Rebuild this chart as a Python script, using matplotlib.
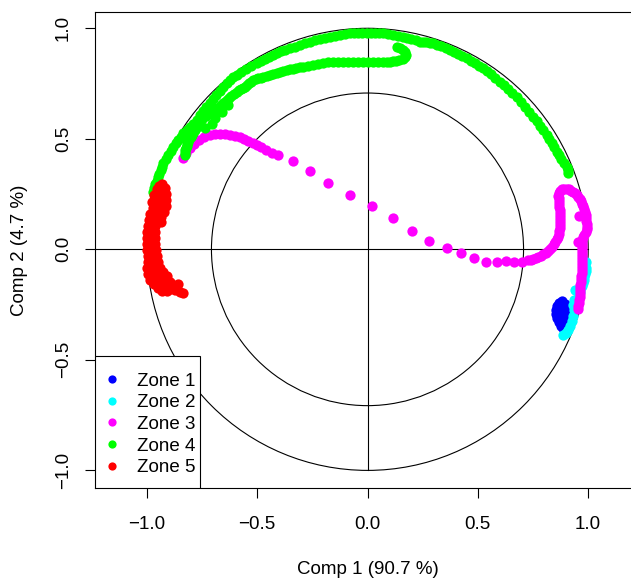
import numpy as np
import matplotlib.pyplot as plt
from matplotlib.patches import Circle, Rectangle

plt.rcParams["font.family"] = ["Liberation Sans", "DejaVu Sans"]

# Correlation of each observation with the first two components
zone1_x = [0.881, 0.868, 0.859, 0.854, 0.854, 0.859, 0.868, 0.877, 0.886,
           0.895, 0.899, 0.899, 0.899, 0.895, 0.872, 0.881]
zone1_y = [-0.234, -0.243, -0.257, -0.275, -0.293, -0.311, -0.329, -0.347, -0.356,
           -0.333, -0.311, -0.288, -0.266, -0.248, -0.284, -0.311]

zone2_x = [0.990, 0.990, 0.985, 0.981, 0.972, 0.963, 0.954, 0.945, 0.936,
           0.931, 0.927, 0.918, 0.909, 0.899, 0.886, 0.940, 0.936, 0.931,
           0.988, 0.983, 0.976]
zone2_y = [-0.057, -0.085, -0.112, -0.139, -0.166, -0.193, -0.220, -0.248, -0.275,
           -0.302, -0.324, -0.347, -0.365, -0.379, -0.388, -0.184, -0.229, -0.252,
           -0.100, -0.125, -0.152]

zone3_x = [-0.836, -0.822, -0.804, -0.786, -0.763, -0.741, -0.714, -0.691, -0.668,
           -0.646, -0.623, -0.600, -0.578, -0.560, -0.540, -0.521, -0.502, -0.483,
           -0.461, -0.433, -0.404, -0.336, -0.261, -0.178, -0.079, 0.022, 0.114,
           0.200, 0.280, 0.359, 0.424, 0.484, 0.537, 0.585, 0.628, 0.665, 0.701,
           0.729, 0.740, 0.750, 0.762, 0.773, 0.784, 0.795, 0.807, 0.818, 0.827,
           0.836, 0.843, 0.850, 0.857, 0.863, 0.867, 0.870, 0.871, 0.872, 0.872,
           0.872, 0.872, 0.872, 0.871, 0.870, 0.869, 0.868, 0.866, 0.863, 0.866,
           0.872, 0.880, 0.890, 0.902, 0.913, 0.922, 0.931, 0.940, 0.949, 0.956,
           0.963, 0.968, 0.972, 0.977, 0.981, 0.985, 0.988, 0.990, 0.992, 0.994,
           0.995, 0.993, 0.990, 0.983, 0.976, 0.972, 0.970, 0.970, 0.970, 0.971,
           0.972, 0.972, 0.972, 0.972, 0.972, 0.971, 0.970, 0.969, 0.967, 0.966,
           0.965, 0.964, 0.963, 0.962, 0.961, 0.960, 0.958, 0.956, 0.954,
           0.958, 0.955]
zone3_y = [0.413, 0.436, 0.458, 0.476, 0.495, 0.508, 0.517, 0.522, 0.524,
           0.522, 0.517, 0.513, 0.506, 0.499, 0.490, 0.481, 0.472, 0.461,
           0.449, 0.438, 0.428, 0.400, 0.354, 0.301, 0.246, 0.196, 0.142,
           0.084, 0.038, 0.007, -0.018, -0.038, -0.059, -0.059, -0.053, -0.059, -0.059,
           -0.048, -0.046, -0.044, -0.040, -0.035, -0.028, -0.021, -0.015, -0.008, 0.001,
           0.010, 0.022, 0.033, 0.045, 0.056, 0.070, 0.083, 0.097, 0.110, 0.124,
           0.137, 0.151, 0.164, 0.178, 0.191, 0.205, 0.219, 0.230, 0.241, 0.254,
           0.264, 0.271, 0.275, 0.274, 0.271, 0.266, 0.259, 0.253, 0.246, 0.237,
           0.228, 0.217, 0.205, 0.194, 0.182, 0.169, 0.155, 0.142, 0.128, 0.115,
           0.101, 0.090, 0.078, 0.067, 0.056, 0.043, 0.029, 0.015, 0.001, -0.013,
           -0.026, -0.040, -0.053, -0.067, -0.080, -0.094, -0.107, -0.121, -0.134, -0.148,
           -0.162, -0.176, -0.189, -0.203, -0.216, -0.230, -0.243, -0.257, -0.270,
           0.150, 0.034]

zone4_x = [-0.972, -0.968, -0.963, -0.956, -0.949, -0.943, -0.936, -0.931, -0.925,
           -0.915, -0.904, -0.892, -0.880, -0.870, -0.859, -0.847, -0.835, -0.820,
           -0.804, -0.789, -0.774, -0.760, -0.745, -0.730, -0.714, -0.700, -0.686,
           -0.670, -0.653, -0.638, -0.623, -0.608, -0.593, -0.572, -0.551, -0.527,
           -0.502, -0.483, -0.464, -0.446, -0.427, -0.410, -0.392, -0.372, -0.351,
           -0.329, -0.306, -0.284, -0.261, -0.238, -0.215, -0.193, -0.170, -0.148,
           -0.125, -0.102, -0.079, -0.061, -0.043, -0.024, -0.004, 0.015, 0.034,
           0.053, 0.072, 0.094, 0.116, 0.139, 0.162, 0.180, 0.197, 0.218, 0.238,
           0.252, 0.265, 0.282, 0.298, 0.316, 0.333, 0.354, 0.374, 0.392, 0.410,
           0.430, 0.449, 0.468, 0.487, 0.506, 0.525, 0.543, 0.560, 0.580, 0.600,
           0.619, 0.637, 0.657, 0.676, 0.695, 0.714, 0.733, 0.751, 0.767, 0.782,
           0.797, 0.812, 0.823, 0.834, 0.846, 0.857, 0.868, 0.879, 0.891, 0.903,
           0.907, 0.910,
           0.132, 0.147, 0.161, 0.168, 0.174, 0.168, 0.161, 0.145, 0.129, 0.116,
           0.102, 0.087, 0.072, 0.049, 0.025, 0.003, -0.019, -0.043, -0.066, -0.088,
           -0.110, -0.133, -0.156, -0.178, -0.200, -0.224, -0.247, -0.269, -0.291,
           -0.308, -0.324, -0.338, -0.351, -0.367, -0.383, -0.397, -0.411, -0.427,
           -0.442, -0.457, -0.472, -0.484, -0.496, -0.507, -0.517, -0.527, -0.537,
           -0.546, -0.555, -0.564, -0.573, -0.583, -0.593, -0.606, -0.618, -0.628,
           -0.638, -0.647, -0.655, -0.662, -0.668, -0.680, -0.691, -0.703, -0.714,
           -0.723, -0.732, -0.744, -0.752, -0.759, -0.767, -0.774, -0.782, -0.789,
           -0.796, -0.802, -0.807, -0.812, -0.816, -0.820, -0.824, -0.827, -0.827,
           -0.827, -0.691, -0.659, -0.632, -0.705, -0.736]
zone4_y = [0.259, 0.277, 0.295, 0.311, 0.327, 0.343, 0.359, 0.374, 0.389,
           0.408, 0.427, 0.446, 0.464, 0.480, 0.495, 0.510, 0.525, 0.539,
           0.553, 0.569, 0.585, 0.606, 0.626, 0.644, 0.661, 0.680, 0.698,
           0.717, 0.736, 0.751, 0.766, 0.778, 0.789, 0.803, 0.816, 0.829,
           0.842, 0.852, 0.861, 0.870, 0.879, 0.887, 0.895, 0.903, 0.910,
           0.917, 0.924, 0.932, 0.939, 0.946, 0.952, 0.957, 0.962, 0.966,
           0.970, 0.974, 0.977, 0.978, 0.979, 0.980, 0.980, 0.980, 0.979,
           0.978, 0.977, 0.974, 0.970, 0.966, 0.962, 0.957, 0.952, 0.946, 0.939,
           0.938, 0.936, 0.934, 0.932, 0.925, 0.918, 0.910, 0.902, 0.893, 0.884,
           0.874, 0.864, 0.854, 0.843, 0.831, 0.819, 0.805, 0.791, 0.775, 0.758,
           0.742, 0.725, 0.708, 0.690, 0.668, 0.646, 0.623, 0.600, 0.579, 0.558,
           0.538, 0.517, 0.499, 0.481, 0.462, 0.442, 0.426, 0.409, 0.392, 0.374,
           0.359, 0.344,
           0.917, 0.910, 0.902, 0.891, 0.879, 0.870, 0.861, 0.857, 0.852, 0.851,
           0.849, 0.849, 0.849, 0.849, 0.849, 0.849, 0.849, 0.849, 0.849, 0.849,
           0.849, 0.849, 0.848, 0.846, 0.844, 0.840, 0.836, 0.831, 0.826,
           0.823, 0.820, 0.817, 0.814, 0.811, 0.807, 0.802, 0.796, 0.793,
           0.789, 0.785, 0.781, 0.777, 0.773, 0.770, 0.766, 0.759, 0.752,
           0.744, 0.736, 0.731, 0.725, 0.719, 0.713, 0.704, 0.694, 0.685,
           0.676, 0.668, 0.660, 0.653, 0.645, 0.638, 0.630, 0.623, 0.615,
           0.610, 0.605, 0.600, 0.589, 0.577, 0.566, 0.555, 0.540, 0.525,
           0.516, 0.506, 0.497, 0.487, 0.477, 0.467, 0.458, 0.449, 0.438,
           0.427, 0.594, 0.621, 0.653, 0.567, 0.549]

zone5_x = [-0.931, -0.918, -0.913, -0.913, -0.913, -0.922, -0.936, -0.954, -0.963,
           -0.972, -0.976, -0.967, -0.954, -0.945, -0.985, -0.990, -0.995, -0.999,
           -0.999, -0.999, -0.999, -0.995, -0.995, -0.999, -0.995, -0.985, -0.967,
           -0.949, -0.931, -0.963, -0.963, -0.963, -0.963, -0.958, -0.954, -0.949,
           -0.940, -0.927, -0.908, -0.895, -0.895, -0.872, -0.850, -0.836, -0.859,
           -0.877, -0.918, -0.976, -0.936,
           -0.945, -0.940, -0.940, -0.950, -0.975, -0.980, -0.980, -0.980, -0.978,
           -0.975, -0.970, -0.950, -0.930, -0.945, -0.960, -0.930, -0.910, -0.885]
zone5_y = [0.295, 0.277, 0.250, 0.223, 0.196, 0.169, 0.146, 0.133, 0.160,
           0.187, 0.214, 0.246, 0.273, 0.286, 0.160, 0.133, 0.105, 0.078,
           0.051, 0.024, -0.003, -0.030, -0.057, -0.085, -0.112, -0.139, -0.157,
           -0.175, -0.189, 0.105, 0.078, 0.051, 0.024, -0.003, -0.030, -0.057,
           -0.085, -0.103, -0.121, -0.148, -0.180, -0.184, -0.193, -0.198, -0.157,
           -0.166, -0.157, 0.105, 0.124,
           0.200, 0.230, 0.260, 0.160, 0.130, 0.080, 0.040, 0.000, -0.040,
           -0.080, -0.120, -0.140, -0.150, -0.110, -0.090, -0.170, -0.190, -0.165]

zone_labels = ["Zone 1", "Zone 2", "Zone 3", "Zone 4", "Zone 5"]
zone_colors = ["#0000FF", "#00FFFF", "#FF00FF", "#00FF00", "#FF0000"]

tick_values = [-1.0, -0.5, 0.0, 0.5, 1.0]
tick_labels = ["\u22121.0", "\u22120.5", "0.0", "0.5", "1.0"]

fig = plt.figure(figsize=(6.31, 5.78), dpi=100)
# plot region runs past the right border of the canvas
ax = fig.add_axes([95.4 / 631, 89.7 / 578, 544.2 / 631, 476.6 / 578])
ax.set_xlim(-1.233, 1.233)
ax.set_ylim(-1.081, 1.075)

# reference circles (r = 1 and r = sqrt(1/2)) and the component axes
for radius in (1.0, np.sqrt(0.5)):
    ax.add_patch(Circle((0, 0), radius, fill=False, edgecolor="black",
                        linewidth=0.8, zorder=1))
ax.plot([-1.3, 1.0], [0, 0], color="black", linewidth=0.8, zorder=1)
ax.plot([0, 0], [-1.0, 1.0], color="black", linewidth=0.8, zorder=1)

zones = [
    (zone1_x, zone1_y),
    (zone2_x, zone2_y),
    (zone3_x, zone3_y),
    (zone4_x, zone4_y),
    (zone5_x, zone5_y),
]
for (zx, zy), label, color in zip(zones, zone_labels, zone_colors):
    ax.plot(zx, zy, "o", color=color, markersize=7.4, markeredgewidth=0,
            label=label, zorder=2)

ax.set_xticks(tick_values, labels=tick_labels)
ax.set_yticks(tick_values, labels=tick_labels)
ax.tick_params(direction="out", length=7.5, width=0.8, labelsize=13.5)
ax.tick_params(axis="x", pad=12.4)
ax.tick_params(axis="y", pad=9.5)
plt.setp(ax.get_yticklabels(), rotation=90, va="center")

for side in ("left", "bottom", "top"):
    ax.spines[side].set_linewidth(0.8)
ax.spines["right"].set_visible(False)

ax.set_xlabel("Comp 1 (90.7 %)", fontsize=13.5, labelpad=20)
ax.set_ylabel("Comp 2 (4.7 %)", fontsize=13.5, labelpad=19)

# legend box in the bottom-left corner, entries centred inside it
ax.add_patch(Rectangle((0, 0), 0.193, 0.2786, transform=ax.transAxes,
                       facecolor="white", edgecolor="black", linewidth=0.8,
                       zorder=3))
ax.legend(loc="center left", bbox_to_anchor=(0.0127, 0.134),
          borderaxespad=0, borderpad=0, frameon=False, fontsize=13.5,
          markerscale=0.8, handlelength=1.0, handletextpad=0.85,
          labelspacing=0.24)

fig.savefig("out.png", dpi=100)
